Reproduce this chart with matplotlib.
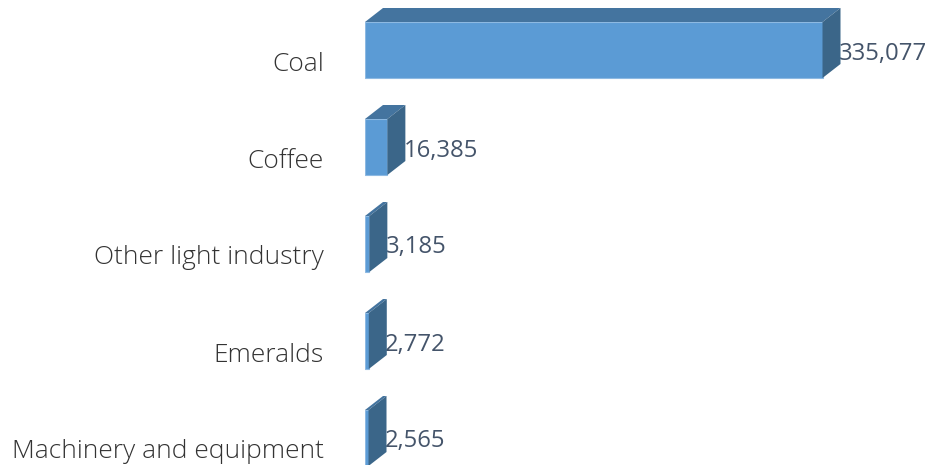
import matplotlib
matplotlib.use("Agg")
import matplotlib.pyplot as plt
import numpy as np

categories = ["Coal", "Coffee", "Other light industry", "Emeralds", "Machinery and equipment"]
values = [335077, 16385, 3185, 2772, 2565]

W, H = 927, 465
ROW_PX = 97
PX_PER_UNIT = 457.5 / 335077
LEFT_PX = 365.0
FIRST_ROW_PX = 61

FRONT = "#5B9BD5"
TOP = "#44749F"
SIDE = "#3B6689"
EDGE = "#8DB9E2"
TEXT_CAT = "#333333"
TEXT_VAL = "#44546A"

fig = plt.figure(figsize=(W / 100, H / 100), dpi=100)
ax = fig.add_axes([LEFT_PX / W, 0, 1 - LEFT_PX / W, 1])
ax.set_xlim(0, (W - LEFT_PX) / PX_PER_UNIT)
ax.set_ylim((H - FIRST_ROW_PX) / ROW_PX, -FIRST_ROW_PX / ROW_PX)

# Oblique projection of each bar: the depth runs to the right and upwards
depth_x = 18 / PX_PER_UNIT
depth_y = 14 / ROW_PX
bar_h = 56 / ROW_PX
lift = 11 / ROW_PX
label_drop = 3.5 / ROW_PX

rows = np.arange(len(categories))
ax.barh(rows - lift, values, height=bar_h, color=FRONT, edgecolor=EDGE, linewidth=0.8, zorder=3)

for row, value in zip(rows, values):
    top_y = row - lift - bar_h / 2
    bot_y = row - lift + bar_h / 2
    ax.fill([0, value, value + depth_x, depth_x],
            [top_y, top_y, top_y - depth_y, top_y - depth_y],
            color=TOP, lw=0, zorder=3)
    ax.fill([value, value + depth_x, value + depth_x, value],
            [top_y, top_y - depth_y, bot_y - depth_y, bot_y],
            color=SIDE, lw=0, zorder=3)
    # Value labels sit behind the bar, so the first digit can tuck under its side face
    ax.text(value + depth_x - 1.5 / PX_PER_UNIT, row - lift + label_drop, f"{value:,}",
            family="Open Sans", fontsize=17.2, color=TEXT_VAL,
            va="center", ha="left", zorder=2)

ax.set_yticks(rows, categories)
ax.tick_params(axis="y", length=0, pad=41 * 0.72, labelsize=19, labelcolor=TEXT_CAT)
for label in ax.get_yticklabels():
    label.set_family("Open Sans")
    label.set_fontweight("light")
ax.set_xticks([])
for spine in ax.spines.values():
    spine.set_visible(False)
ax.patch.set_alpha(0)

fig.savefig("out.png", dpi=100)
